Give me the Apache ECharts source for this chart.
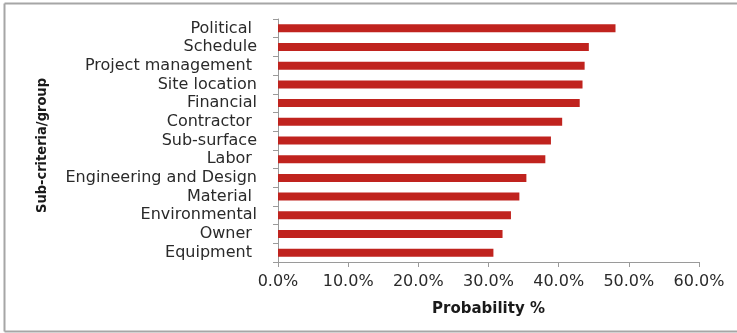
<!DOCTYPE html>
<html>
<head>
<meta charset="utf-8">
<style>
  html, body { margin: 0; padding: 0; background: #fff; }
  #chart { width: 737px; height: 333px; }
</style>
<script src="https://cdn.jsdelivr.net/npm/echarts@6/dist/echarts.min.js"></script>
</head>
<body>
<div id="chart"></div>
<script>
// Sub-criteria, listed top to bottom
const categories = [
  'Political ', 'Schedule', 'Project management ', 'Site location', 'Financial',
  'Contractor ', 'Sub-surface', 'Labor ', 'Engineering and Design', 'Material ',
  'Environmental', 'Owner ', 'Equipment '
];
// Probability of each sub-criterion (fraction)
const probability = [
  0.481, 0.443, 0.437, 0.434, 0.430,
  0.405, 0.389, 0.381, 0.354, 0.344,
  0.332, 0.320, 0.307
];
const xTicks = { min: 0, max: 0.6, interval: 0.1 };

const chart = echarts.init(document.getElementById('chart'), null, { renderer: 'canvas' });

const axisGray = '#9a9a9a';
const labelFont = 'DejaVu Sans';

chart.setOption({
  backgroundColor: '#ffffff',
  animation: false,
  graphic: [
    { type: 'line', shape: { x1: 4.5, y1: 3.5, x2: 737, y2: 3.5 }, style: { stroke: '#a6a6a6', lineWidth: 2 } },
    { type: 'line', shape: { x1: 4.5, y1: 3.5, x2: 4.5, y2: 331.5 }, style: { stroke: '#a6a6a6', lineWidth: 2 } },
    { type: 'line', shape: { x1: 4.5, y1: 331.5, x2: 737, y2: 331.5 }, style: { stroke: '#a6a6a6', lineWidth: 2 } }
  ],
  grid: { left: 278, right: 38, top: 19, bottom: 71, containLabel: false },
  xAxis: {
    type: 'value',
    min: xTicks.min,
    max: xTicks.max,
    interval: xTicks.interval,
    name: 'Probability %',
    nameLocation: 'middle',
    nameGap: 40,
    nameTextStyle: { fontFamily: labelFont, fontWeight: 'bold', fontSize: 15, color: '#1a1a1a' },
    axisLine: { show: true, lineStyle: { color: axisGray, width: 1 } },
    axisTick: { show: true, inside: false, length: 5, lineStyle: { color: axisGray } },
    splitLine: { show: false },
    axisLabel: {
      fontFamily: labelFont, fontSize: 16, color: '#2a2a2a', margin: 12,
      formatter: v => (v * 100).toFixed(1) + '%'
    }
  },
  yAxis: {
    type: 'category',
    data: categories,
    inverse: true,
    name: 'Sub-criteria/group',
    nameLocation: 'middle',
    nameGap: 228,
    nameRotate: 90,
    nameTextStyle: {
      fontFamily: 'DejaVu Sans Condensed, Liberation Sans', fontWeight: 'bold', fontSize: 14.5,
      color: '#1a1a1a', padding: [0, 10, 0, 0]
    },
    axisLine: { show: true, lineStyle: { color: axisGray, width: 1 } },
    axisTick: { show: true, inside: false, length: 5, lineStyle: { color: axisGray } },
    splitLine: { show: false },
    axisLabel: { fontFamily: labelFont, fontSize: 16, color: '#2a2a2a', margin: 21, interval: 0 }
  },
  series: [{
    type: 'bar',
    data: probability,
    barWidth: 8,
    itemStyle: { color: '#c0231e' },
    silent: true
  }]
});
</script>
</body>
</html>
